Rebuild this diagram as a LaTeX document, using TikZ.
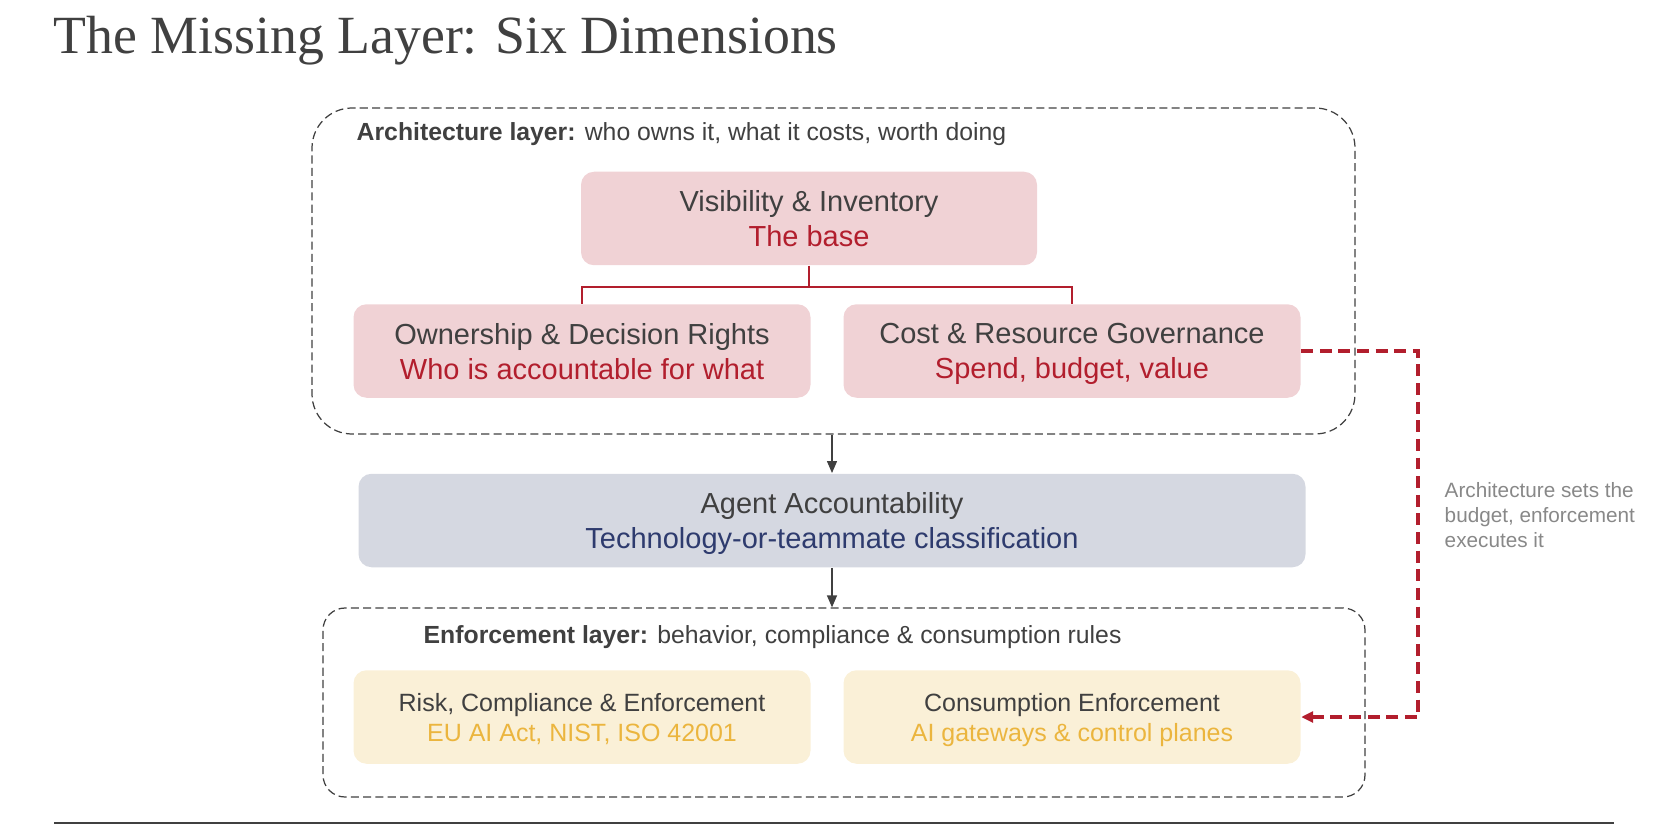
\documentclass[tikz,border=0pt]{standalone}
\usepackage{fontspec}
\setmainfont{Liberation Serif}
\setsansfont{Liberation Sans}
\usetikzlibrary{arrows.meta}
\definecolor{ink}{RGB}{64,64,64}
\definecolor{rosefill}{RGB}{240,210,213}
\definecolor{rosetext}{RGB}{178,30,45}
\definecolor{slatefill}{RGB}{213,216,225}
\definecolor{slatetext}{RGB}{46,59,110}
\definecolor{sandfill}{RGB}{250,240,215}
\definecolor{sandtext}{RGB}{235,181,62}
\definecolor{notegray}{RGB}{136,136,136}

\newcommand{\titlefont}{\rmfamily\fontsize{15.3}{18}\selectfont}
\newcommand{\cardfont}{\sffamily\fontsize{8.25}{9.96}\selectfont}
\newcommand{\smallcardfont}{\sffamily\fontsize{7.11}{8.54}\selectfont}
\newcommand{\headfont}{\sffamily\fontsize{7.05}{8.5}\selectfont}
\newcommand{\notefont}{\sffamily\fontsize{5.9}{7.11}\selectfont}
% second line of a card, coloured, without its depth
\newcommand{\cardsub}[2]{\textcolor{#1}{\raisebox{0pt}[\height][0pt]{#2}}}

\begin{document}
\begin{tikzpicture}[x=0.1mm, y=-0.1mm,
	layer/.style={draw=ink, line width=0.35pt, dash pattern=on 2.3pt off 1.2pt},
	card/.style={rectangle, rounded corners=1.3mm, inner sep=0pt, align=center, text=ink,
		minimum width=45.7mm, minimum height=9.35mm, font=\cardfont},
	rosecard/.style={card, fill=rosefill},
	sandcard/.style={card, fill=sandfill, font=\smallcardfont},
	head/.style={anchor=base west, inner sep=0pt, text=ink, font=\headfont},
	tree/.style={draw=rosetext, line width=0.42pt},
	flow/.style={draw=ink, line width=0.37pt, -{Triangle[length=1.2mm, width=1mm]}},
	budget/.style={draw=rosetext, line width=1pt, dash pattern=on 3.4pt off 1.9pt,
		-{Triangle[length=1.2mm, width=1.1mm]}}]

	\useasboundingbox (0,0) rectangle (1667,825);

	\node[anchor=base west, inner sep=0pt, text=ink, font=\titlefont] (title) at (53,54) {The Missing Layer: Six Dimensions};

	% architecture layer
	\node[layer, rounded corners=4mm, minimum width=104.3mm, minimum height=32.6mm] (arch) at (833.5,271) {};
	\node[head] (archhead) at (356,141) {\textbf{Architecture layer:} who owns it, what it costs, worth doing};

	\node[rosecard, minimum width=45.6mm] (vis) at (809,218.5) {Visibility \& Inventory\\\cardsub{rosetext}{The base}};
	\node[rosecard] (own) at (582,351) {Ownership \& Decision Rights\\\cardsub{rosetext}{Who is accountable for what}};
	\node[rosecard] (cost) at (1072,351) {Cost \& Resource Governance\\\cardsub{rosetext}{Spend, budget, value}};

	\draw[tree] (vis.south) -- ++(0,21) -| (own.north);
	\draw[tree] (vis.south) -- ++(0,21) -| (cost.north);

	% middle
	\node[card, fill=slatefill, minimum width=94.7mm] (agent) at (832,520.5) {Agent Accountability\\\cardsub{slatetext}{Technology-or-teammate classification}};

	% enforcement layer
	\node[layer, rounded corners=2.2mm, minimum width=104.2mm, minimum height=18.9mm] (enf) at (844,702.5) {};
	\node[head] (enfhead) at (423,643) {\textbf{Enforcement layer:} behavior, compliance \& consumption rules};

	\node[sandcard] (risk) at (582,717) {Risk, Compliance \& Enforcement\\\cardsub{sandtext}{EU AI Act, NIST, ISO 42001}};
	\node[sandcard] (cons) at (1072,717) {Consumption Enforcement\\\cardsub{sandtext}{AI gateways \& control planes}};

	\draw[flow] (arch.south -| agent) -- (agent.north);
	\draw[flow] (agent.south) -- (enf.north -| agent);

	\draw[budget] (cost.east) -- ++(117,0) |- (cons.east);
	\node[anchor=north west, inner sep=0pt, align=left, text=notegray, font=\notefont] (budgetnote) at (1444,482)
		{Architecture sets the\\budget, enforcement\\executes it};

	\draw[ink, line width=0.57pt] (54,823) -- (1614,823);

\end{tikzpicture}
\end{document}
